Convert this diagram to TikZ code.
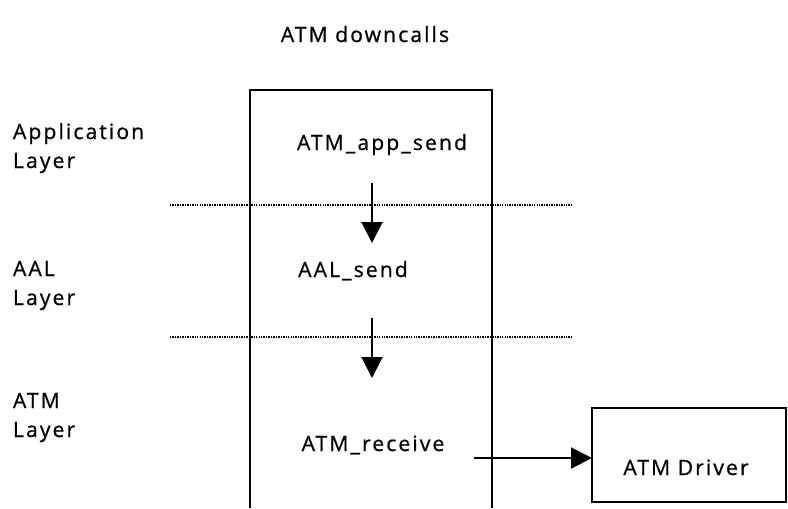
\documentclass[tikz,border=0pt]{standalone}
\usepackage{fontspec}
\setmainfont[LetterSpace=10,FakeBold=0.8]{Open Sans}
\usetikzlibrary{arrows.meta}
\begin{document}
\begin{tikzpicture}[x=0.02cm,y=-0.02cm,inner sep=0pt,outer sep=0pt,very thick,
font=\fontsize{12}{16.5}\selectfont,
callname/.style={anchor=base},
layername/.style={anchor=base west,align=left},
layerline/.style={line width=0.7pt,dash pattern=on 0.8pt off 0.6pt},
callarrow/.style={-{Triangle[length=0.42cm,width=0.42cm]}}]
\useasboundingbox (0,0) rectangle (788,508);
% layer names (base is the last line)
\draw (13,168) node[layername] (applayer) {Application\\Layer};
\draw (13,305) node[layername] (aallayer) {AAL\\Layer};
\draw (13,437) node[layername] (atmlayer) {ATM\\Layer};
\draw (365,42) node[callname] (title) {ATM downcalls};
% call stack
\draw (250,508) -- (250,90) -- (492,90) -- (492,508);
\draw[layerline] (170,205) -- (573,205);
\draw[layerline] (170,337) -- (573,337);
\draw (382,150) node[callname] (appsend) {ATM\_app\_send};
\draw (353,277) node[callname] (aalsend) {AAL\_send};
\draw (373,451) node[callname] (atmrecv) {ATM\_receive};
\draw (592,408) node[draw,anchor=north west,minimum width=3.88cm,minimum height=1.88cm] (driver) {};
\draw (686,475) node[callname] (drvname) {ATM Driver};
\coordinate (appout) at (372,183);
\coordinate (aalin) at (372,243);
\coordinate (aalout) at (372,318);
\coordinate (rcvin) at (372,378);
\coordinate (rcvout) at (474,458);
\draw[callarrow] (appout) -- (aalin);
\draw[callarrow] (aalout) -- (rcvin);
\draw[callarrow] (rcvout) -- (rcvout -| driver.west);
\end{tikzpicture}
\end{document}
